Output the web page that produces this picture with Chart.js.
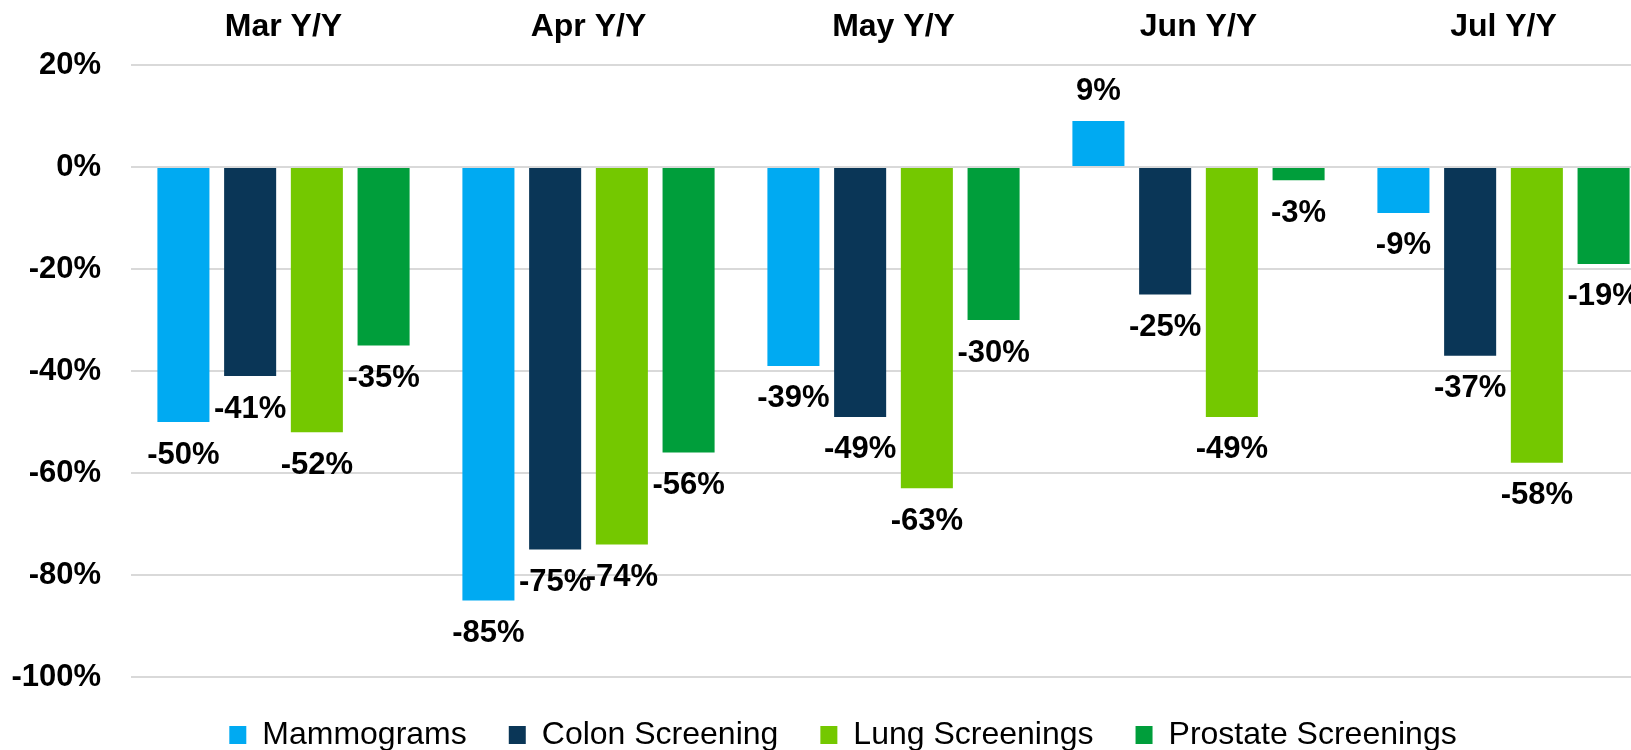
<!DOCTYPE html>
<html>
<head>
<meta charset="utf-8">
<script src="https://cdn.jsdelivr.net/npm/chart.js@4/dist/chart.umd.min.js"></script>
<style>
  html, body { margin: 0; padding: 0; background: #ffffff; overflow: hidden; width: 1631px; height: 750px; }
  #wrap { position: absolute; left: 0; top: 0; width: 1656px; height: 761px; }
</style>
</head>
<body>
<div id="wrap"><canvas id="c"></canvas></div>
<script>
const categories = ['Mar Y/Y', 'Apr Y/Y', 'May Y/Y', 'Jun Y/Y', 'Jul Y/Y'];
const seriesNames = ['Mammograms', 'Colon Screening', 'Lung Screenings', 'Prostate Screenings'];
const mammograms = [-50, -85, -39, 9, -9];
const colonScreening = [-41, -75, -49, -25, -37];
const lungScreenings = [-52, -74, -63, -49, -58];
const prostateScreenings = [-35, -56, -30, -2.6, -19];
const yTicks = [20, 0, -20, -40, -60, -80, -100];
const colors = ['#00AAF2', '#0A3657', '#74C800', '#009E3B'];

const FONT = "'Liberation Sans', Arial, sans-serif";

const valueLabels = {
  id: 'valueLabels',
  afterDatasetsDraw(chart) {
    const ctx = chart.ctx;
    ctx.save();
    ctx.font = 'bold 31px ' + FONT;
    ctx.fillStyle = '#000000';
    ctx.textAlign = 'center';
    ctx.textBaseline = 'middle';
    chart.data.datasets.forEach((ds, i) => {
      const meta = chart.getDatasetMeta(i);
      meta.data.forEach((bar, j) => {
        const v = ds.data[j];
        const off = v < 0 ? 33 : -30;
        ctx.fillText(Math.round(v) + '%', bar.x, bar.y + off);
      });
    });
    ctx.restore();
  }
};

// nudge the legend row slightly right to match the reference placement
const legendShift = {
  id: 'legendShift',
  afterLayout(chart) {
    if (chart.legend) {
      chart.legend.left += 15;
      chart.legend.right += 15;
    }
  }
};

const allSeries = [mammograms, colonScreening, lungScreenings, prostateScreenings];

new Chart(document.getElementById('c'), {
  type: 'bar',
  data: {
    labels: categories,
    datasets: seriesNames.map((name, i) => ({
      label: name,
      data: allSeries[i],
      backgroundColor: colors[i],
      borderWidth: 0,
      categoryPercentage: 0.875,
      barPercentage: 0.78
    }))
  },
  options: {
    responsive: true,
    maintainAspectRatio: false,
    animation: false,
    layout: { padding: 0 },
    plugins: {
      tooltip: { enabled: false },
      legend: {
        position: 'bottom',
        labels: {
          font: { family: FONT, size: 32 },
          color: '#000000',
          boxWidth: 17,
          boxHeight: 18,
          padding: 42
        }
      }
    },
    scales: {
      x: {
        position: 'top',
        grid: { display: false, drawTicks: false },
        border: { display: false },
        ticks: {
          font: { family: FONT, size: 32, weight: 'bold' },
          color: '#000000',
          padding: 19
        },
        afterFit(scale) { scale.height = 65; }
      },
      y: {
        min: -100,
        max: 20,
        grid: { color: '#D9D9D9', lineWidth: 2, drawTicks: false },
        border: { display: false },
        afterBuildTicks(scale) { scale.ticks = yTicks.map(v => ({ value: v })); },
        ticks: {
          font: { family: FONT, size: 31, weight: 'bold' },
          color: '#000000',
          padding: 30,
          callback: v => v + '%'
        },
        afterFit(scale) { scale.width = 131; }
      }
    }
  },
  plugins: [valueLabels, legendShift]
});
</script>
</body>
</html>
